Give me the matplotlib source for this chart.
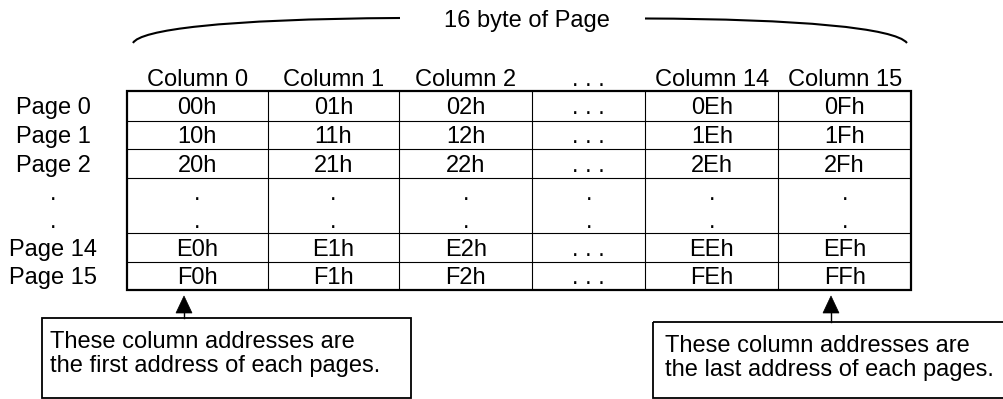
import matplotlib
matplotlib.use("Agg")
import matplotlib.pyplot as plt
from matplotlib.path import Path
from matplotlib.patches import PathPatch, Rectangle, Polygon

plt.rcParams['font.family'] = ['Liberation Sans', 'DejaVu Sans']

# ---- content ----
title = "16 byte of Page"
col_labels = ["Column 0", "Column 1", "Column 2", ". . .", "Column 14", "Column 15"]
row_labels = ["Page 0", "Page 1", "Page 2", None, "Page 14", "Page 15"]
cells = [
    ["00h", "01h", "02h", ". . .", "0Eh", "0Fh"],
    ["10h", "11h", "12h", ". . .", "1Eh", "1Fh"],
    ["20h", "21h", "22h", ". . .", "2Eh", "2Fh"],
    None,  # vertical ellipsis row
    ["E0h", "E1h", "E2h", ". . .", "EEh", "EFh"],
    ["F0h", "F1h", "F2h", ". . .", "FEh", "FFh"],
]
note_left = ["These column addresses are", "the first address of each pages."]
note_right = ["These column addresses are", "the last address of each pages."]

# ---- layout (pixels) ----
W, H = 1004, 399
col_edges = [126.7, 267.7, 399.3, 532.0, 645.3, 778.3, 911.0]
row_edges = [91.0, 120.5, 149.0, 177.5, 233.0, 261.5, 290.0]
FS = 17
cap_half = 8.4
label_x = 53

fig = plt.figure(figsize=(W / 100, H / 100), dpi=100)
ax = fig.add_axes([0, 0, 1, 1])
ax.set_xlim(0, W)
ax.set_ylim(H, 0)
ax.axis('off')

# table grid
for x in col_edges[1:-1]:
    ax.plot([x, x], [row_edges[0], row_edges[-1]], color='black', lw=0.8, solid_capstyle='butt')
for y in row_edges[1:-1]:
    ax.plot([col_edges[0], col_edges[-1]], [y, y], color='black', lw=0.8, solid_capstyle='butt')
ax.add_patch(Rectangle((col_edges[0], row_edges[0]), col_edges[-1] - col_edges[0],
                       row_edges[-1] - row_edges[0], fill=False, ec='black', lw=1.6,
                       joinstyle='miter'))

col_centers = [(a + b) / 2 for a, b in zip(col_edges[:-1], col_edges[1:])]

# headers
for cx, lab in zip(col_centers, col_labels):
    ax.text(cx, 86, lab, ha='center', va='baseline', fontsize=FS)

# rows
for i, (lab, row) in enumerate(zip(row_labels, cells)):
    y0, y1 = row_edges[i], row_edges[i + 1]
    if row is None:
        mid = (y0 + y1) / 2
        for yb in [(y0 + mid) / 2 + cap_half, (mid + y1) / 2 + cap_half]:
            ax.text(label_x, yb, ".", ha='center', va='baseline', fontsize=FS)
            for cx in col_centers:
                ax.text(cx, yb, ".", ha='center', va='baseline', fontsize=FS)
        continue
    yb = (y0 + y1) / 2 + cap_half
    ax.text(label_x, yb, lab, ha='center', va='baseline', fontsize=FS)
    for cx, v in zip(col_centers, row):
        ax.text(cx, yb, v, ha='center', va='baseline', fontsize=FS)

# title and brace
ax.text(526.5, 27, title, ha='center', va='baseline', fontsize=FS)
left_brace = Path([(133, 43), (140, 30), (220, 19), (400, 18)],
                  [Path.MOVETO, Path.CURVE4, Path.CURVE4, Path.CURVE4])
right_brace = Path([(645, 18.5), (800, 19), (895, 28), (907, 43)],
                   [Path.MOVETO, Path.CURVE4, Path.CURVE4, Path.CURVE4])
for p in (left_brace, right_brace):
    ax.add_patch(PathPatch(p, fill=False, ec='black', lw=1.5))

# notes with arrows
def note(x0, x1, top, bottom, tx, baselines, lines, ax_x):
    ax.add_patch(Rectangle((x0, top), x1 - x0, bottom - top, fill=False, ec='black',
                           lw=1.3, joinstyle='miter'))
    for yb, s in zip(baselines, lines):
        ax.text(tx, yb, s, ha='left', va='baseline', fontsize=FS)
    ax.plot([ax_x, ax_x], [top, 310], color='black', lw=1.0)
    ax.add_patch(Polygon([(ax_x - 8, 313), (ax_x + 8, 313), (ax_x, 296)],
                         closed=True, fc='black', ec='black', lw=0.5))

note(42, 411, 318, 397.5, 50, [348, 372], note_left, 184)
note(653, 1012, 322, 397.5, 665, [352, 376], note_right, 831)

fig.savefig("out.png", dpi=100)
